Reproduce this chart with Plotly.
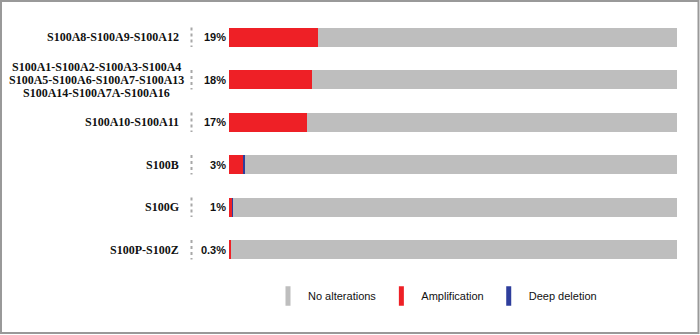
import plotly.graph_objects as go

groups = [
    "S100A8-S100A9-S100A12",
    "S100A1-S100A2-S100A3-S100A4<br>S100A5-S100A6-S100A7-S100A13<br>S100A14-S100A7A-S100A16",
    "S100A10-S100A11",
    "S100B",
    "S100G",
    "S100P-S100Z",
]
pct_labels = ["19%", "18%", "17%", "3%", "1%", "0.3%"]
amplification = [19.8, 18.5, 17.4, 3.2, 0.7, 0.4]
deep_deletion = [0.0, 0.0, 0.0, 0.3, 0.3, 0.0]
no_alterations = [100 - a - d for a, d in zip(amplification, deep_deletion)]

legend_names = ["No alterations", "Amplification", "Deep deletion"]
colors = {"No alterations": "#BEBEBE", "Amplification": "#EE2026", "Deep deletion": "#2E3E9C"}

W, H = 700, 335
L, R, T, B = 229, 23, 16, 64
pw, ph = W - L - R, H - T - B

def px_x(p):
    return (p - L) / pw

def px_y(p):
    return (H - B - p) / ph

fig = go.Figure()
for name, vals in [("Amplification", amplification), ("Deep deletion", deep_deletion), ("No alterations", no_alterations)]:
    fig.add_trace(go.Bar(
        y=groups, x=vals, orientation="h", name=name,
        marker=dict(color=colors[name], line=dict(width=0)),
        showlegend=False, hoverinfo="skip",
    ))

for name in legend_names:
    fig.add_trace(go.Scatter(
        x=[None], y=[None], mode="markers", name=name,
        marker=dict(symbol="line-ns", size=14, line=dict(width=5, color=colors[name]), color=colors[name]),
        showlegend=True,
    ))

shapes = []
annotations = []
LINE_H = 13
for i, g in enumerate(groups):
    lines = g.split("<br>")
    n = len(lines)
    for k, ln in enumerate(lines):
        if n > 1:
            annotations.append(dict(
                xref="paper", yref="y", x=px_x(96), y=g, xanchor="center",
                yanchor="middle", text=ln, showarrow=False,
                yshift=((n - 1) / 2 - k) * LINE_H,
                font=dict(family="Liberation Serif", size=12, color="#111111", weight="bold"),
            ))
        else:
            annotations.append(dict(
                xref="paper", yref="y", x=px_x(181), y=g, xanchor="right", yanchor="middle",
                text=ln, showarrow=False,
                font=dict(family="Liberation Serif", size=12, color="#111111", weight="bold"),
            ))
    shapes.append(dict(
        type="line", xref="paper", yref="y", x0=px_x(191.5), x1=px_x(191.5),
        y0=i - 0.23, y1=i + 0.23, line=dict(color="#A8A8A8", width=2, dash="dot"),
    ))

shapes.append(dict(
    type="rect", xref="paper", yref="paper",
    x0=px_x(1), x1=px_x(698.5), y0=px_y(333), y1=px_y(1),
    line=dict(color="#999999", width=2), fillcolor="rgba(0,0,0,0)",
))

fig.update_layout(
    width=W, height=H, barmode="stack", bargap=0.55,
    margin=dict(l=L, r=R, t=T, b=B, pad=0),
    paper_bgcolor="white", plot_bgcolor="white",
    xaxis=dict(range=[0, 100], visible=False, fixedrange=True),
    yaxis=dict(
        autorange="reversed", showgrid=False, zeroline=False, showline=False, ticks="",
        tickmode="array", tickvals=groups, ticktext=pct_labels,
        tickfont=dict(family="Liberation Sans", size=11, color="#111111", weight="bold"),
        ticklabelstandoff=2, automargin=False, fixedrange=True,
    ),
    legend=dict(
        orientation="h", traceorder="normal",
        x=px_x(268), xanchor="left", y=px_y(296), yanchor="middle",
        font=dict(family="Liberation Sans", size=11, color="#111111"),
        bgcolor="rgba(0,0,0,0)", itemclick=False, itemdoubleclick=False,
    ),
    shapes=shapes, annotations=annotations, showlegend=True,
)

fig.write_html(
    "out.html",
    config={"displayModeBar": False},
    post_script="document.body.style.margin='0';document.body.style.padding='0';",
)
